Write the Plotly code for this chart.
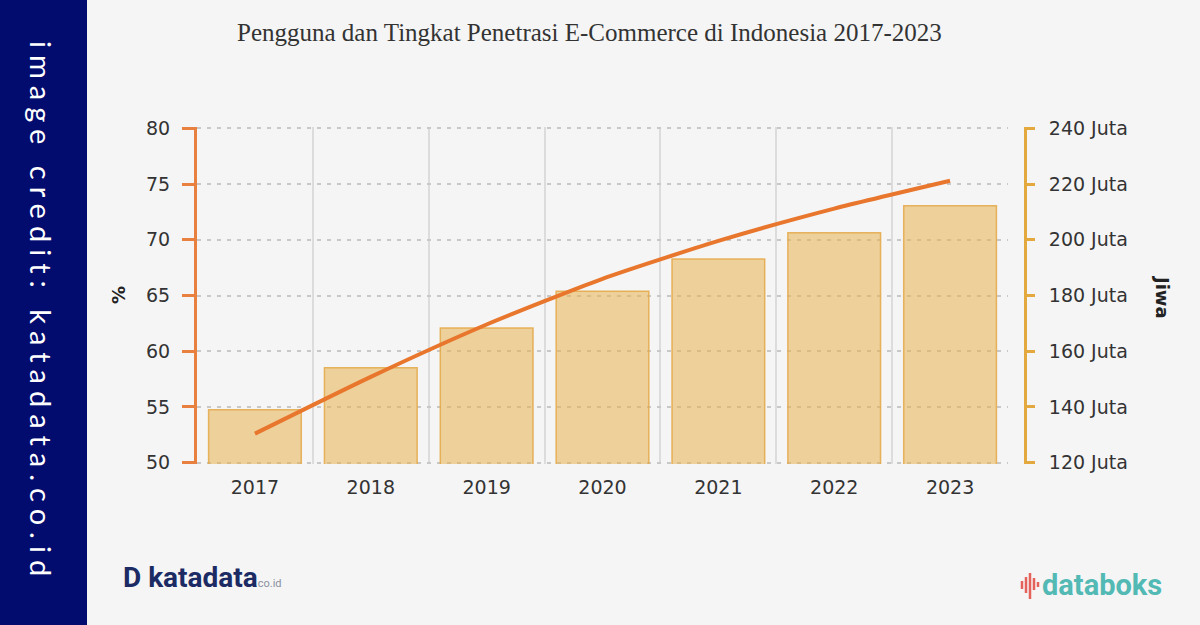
import plotly.graph_objects as go

years = ["2017", "2018", "2019", "2020", "2021", "2022", "2023"]
users_juta = [139.0, 154.1, 168.3, 181.5, 193.1, 202.5, 212.2]
penetration_pct = [52.6, 57.7, 62.4, 66.5, 69.9, 72.8, 75.3]
right_ticks = [120, 140, 160, 180, 200, 220, 240]
right_ticktext = [f"{v} Juta" for v in right_ticks]
left_ticks = [50, 55, 60, 65, 70, 75, 80]

W, H = 1200, 625
L, R, T, B = 197, 175, 127, 161
PW, PH = W - L - R, H - T - B


def px(x):
    return (x - L) / PW


def py(y):
    return (H - B - y) / PH


BG = "#f5f5f5"
ORANGE = "#e8803f"
GOLD = "#e3a93e"
TICKFONT = dict(family="DejaVu Sans", size=19, color="#333333")

fig = go.Figure()
fig.add_trace(go.Bar(
    x=years, y=users_juta, yaxis="y", width=0.8,
    marker=dict(color="rgba(232,176,80,0.55)",
                line=dict(color="rgba(228,168,70,0.85)", width=1.5)),
    showlegend=False, hoverinfo="skip"))
fig.add_trace(go.Scatter(
    x=years, y=penetration_pct, yaxis="y2", mode="lines",
    line=dict(color="#e8762c", width=4, shape="spline", smoothing=0.6),
    showlegend=False, hoverinfo="skip"))

shapes = [
    dict(type="rect", xref="paper", yref="paper", x0=px(0), x1=px(87),
         y0=py(H), y1=py(0), fillcolor="#020b6e", line=dict(width=0), layer="below"),
]
for (x, y0, y1) in [(1022, 581, 589), (1026, 577, 593), (1030, 573, 599), (1034, 578, 590), (1038, 582, 587)]:
    shapes.append(dict(type="line", xref="paper", yref="paper", x0=px(x), x1=px(x),
                       y0=py(y0), y1=py(y1), line=dict(color="#e5625a", width=2.5)))

annotations = [
    dict(text="Pengguna dan Tingkat Penetrasi E-Commerce di Indonesia 2017-2023",
         x=px(589), y=py(33), xref="paper", yref="paper", showarrow=False,
         xanchor="center", yanchor="middle",
         font=dict(family="Liberation Serif", size=25, color="#333333")),
    dict(text="<b>%</b>", x=px(118), y=py(295), xref="paper", yref="paper",
         showarrow=False, textangle=-90, xanchor="center", yanchor="middle",
         font=dict(family="DejaVu Sans", size=18, color="#222222")),
    dict(text="<b>Jiwa</b>", x=px(1163), y=py(297), xref="paper", yref="paper",
         showarrow=False, textangle=90, xanchor="center", yanchor="middle",
         font=dict(family="DejaVu Sans", size=18, color="#222222")),
    dict(text="<span style='letter-spacing:7px'>image credit: katadata.co.id</span>",
         x=px(42), y=py(312), xref="paper", yref="paper",
         showarrow=False, textangle=90, xanchor="center", yanchor="middle",
         font=dict(family="Lato", size=29, color="#ffffff")),
    dict(text="<b>D</b> <b>katadata</b><span style='font-size:11px;color:#8a8fa0'>co.id</span>",
         x=px(121), y=py(577), xref="paper", yref="paper", showarrow=False,
         xanchor="left", yanchor="middle",
         font=dict(family="Roboto", size=28, color="#1c2b64")),
    dict(text="<b>databoks</b>", x=px(1040), y=py(585), xref="paper", yref="paper",
         showarrow=False, xanchor="left", yanchor="middle",
         font=dict(family="Roboto", size=29, color="#52b9b4")),
]

fig.update_layout(
    width=W, height=H,
    margin=dict(l=L, r=R, t=T, b=B),
    paper_bgcolor=BG, plot_bgcolor=BG,
    bargap=0.2,
    xaxis=dict(domain=[0, px(1008)], type="category", tickson="boundaries",
               showgrid=True, gridcolor="#dcdcdc", gridwidth=1.5,
               ticks="", ticklabelstandoff=10, tickfont=TICKFONT,
               showline=False, zeroline=False),
    yaxis=dict(range=[119.5, 240.5], tickvals=right_ticks, ticktext=right_ticktext,
               side="right", anchor="free", position=1.0,
               showgrid=True, gridcolor="#c8c8c8", gridwidth=2, griddash="4px,6px",
               showline=True, linecolor=GOLD, linewidth=3,
               ticks="outside", ticklen=8, tickwidth=3, tickcolor=GOLD,
               ticklabelstandoff=10,
               tickfont=TICKFONT, zeroline=False),
    yaxis2=dict(range=[49.875, 80.125], tickvals=left_ticks, overlaying="y", side="left",
                anchor="x", showgrid=False,
                showline=True, linecolor=ORANGE, linewidth=3,
                ticks="outside", ticklen=12, tickwidth=3, tickcolor=ORANGE,
                ticklabelstandoff=8,
                tickfont=TICKFONT, zeroline=False),
    shapes=shapes,
    annotations=annotations,
)

fig.write_html("out.html")
